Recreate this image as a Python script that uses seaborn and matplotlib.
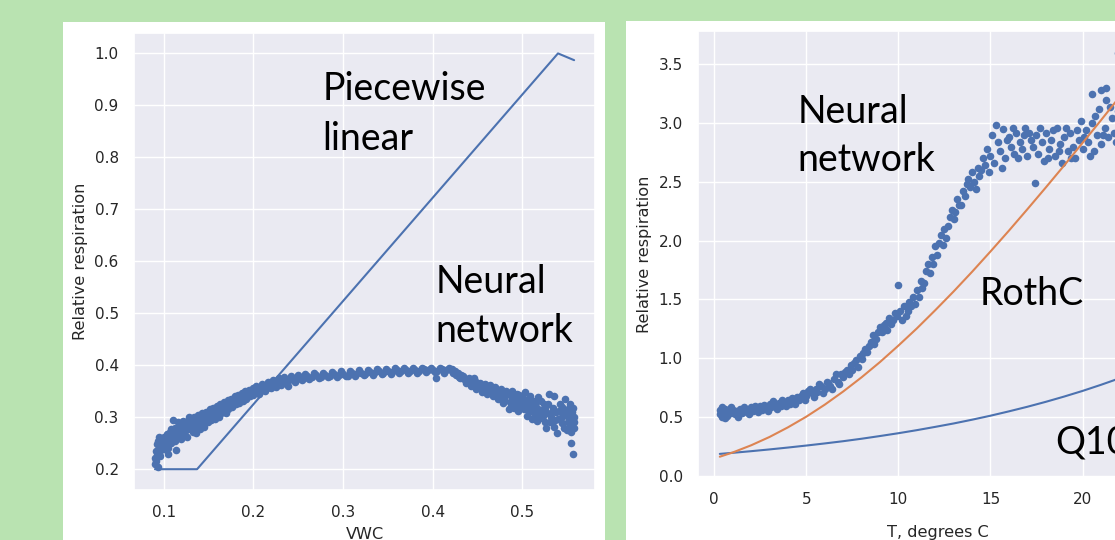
import seaborn as sns
import matplotlib.pyplot as plt
from matplotlib.patches import Rectangle

## Data

# left panel: moisture response
vwc_piecewise = [0.090, 0.137, 0.540, 0.558]
resp_piecewise = [0.200, 0.200, 1.000, 0.987]

vwc_nn = [0.090, 0.090, 0.091, 0.091, 0.092, 0.092, 0.093, 0.094, 0.095, 0.095,
          0.096, 0.097, 0.098, 0.099, 0.100, 0.101, 0.102, 0.103, 0.104, 0.105,
          0.106, 0.107, 0.108, 0.109, 0.110, 0.111, 0.112, 0.113, 0.114, 0.115,
          0.117, 0.118, 0.120, 0.122, 0.123, 0.125, 0.127, 0.128, 0.130, 0.132,
          0.133, 0.135, 0.137, 0.139, 0.140, 0.142, 0.144, 0.146, 0.148, 0.150,
          0.152, 0.154, 0.156, 0.158, 0.160, 0.162, 0.164, 0.166, 0.168, 0.170,
          0.172, 0.174, 0.176, 0.178, 0.180, 0.182, 0.184, 0.186, 0.188, 0.190,
          0.192, 0.194, 0.196, 0.198, 0.200, 0.202, 0.205, 0.207, 0.210, 0.212,
          0.215, 0.218, 0.220, 0.223, 0.226, 0.229, 0.232, 0.235, 0.238, 0.240,
          0.244, 0.248, 0.252, 0.256, 0.260, 0.265, 0.270, 0.275, 0.280, 0.285,
          0.290, 0.295, 0.300, 0.305, 0.310, 0.315, 0.320, 0.325, 0.330, 0.335,
          0.340, 0.345, 0.350, 0.355, 0.360, 0.365, 0.370, 0.375, 0.380, 0.385,
          0.390, 0.395, 0.400, 0.404, 0.405, 0.410, 0.415, 0.420, 0.423, 0.426,
          0.429, 0.432, 0.435, 0.438, 0.441, 0.444, 0.447, 0.450, 0.453, 0.456,
          0.459, 0.462, 0.465, 0.468, 0.471, 0.474, 0.477, 0.480, 0.483, 0.486,
          0.488, 0.490, 0.492, 0.494, 0.496, 0.498, 0.500, 0.502, 0.504, 0.506,
          0.508, 0.510, 0.512, 0.514, 0.516, 0.518, 0.520, 0.522, 0.524, 0.526,
          0.528, 0.530, 0.532, 0.534, 0.536, 0.538, 0.540, 0.542, 0.544, 0.546,
          0.548, 0.550, 0.551, 0.552, 0.553, 0.554, 0.555, 0.556, 0.557, 0.558,
          0.558,
          0.093, 0.096, 0.100, 0.104, 0.108, 0.112, 0.116, 0.119, 0.121, 0.124,
          0.126, 0.129, 0.131, 0.134, 0.136, 0.138, 0.141, 0.143, 0.145, 0.147,
          0.149, 0.151, 0.153, 0.155, 0.157, 0.159, 0.161, 0.163, 0.165, 0.167,
          0.169, 0.171, 0.173, 0.175, 0.177, 0.179, 0.181, 0.183, 0.185, 0.187,
          0.189, 0.191, 0.193, 0.195, 0.197, 0.199, 0.203, 0.206, 0.209, 0.213,
          0.216, 0.219, 0.222, 0.225, 0.228, 0.231, 0.234, 0.237, 0.242, 0.246,
          0.250, 0.254, 0.258, 0.262, 0.268, 0.273, 0.278, 0.283, 0.288, 0.293,
          0.298, 0.303, 0.308, 0.313, 0.318, 0.323, 0.328, 0.333, 0.338, 0.343,
          0.348, 0.353, 0.358, 0.363, 0.368, 0.373, 0.378, 0.383, 0.388, 0.393,
          0.398, 0.403, 0.408, 0.413, 0.418, 0.422, 0.425, 0.428, 0.431, 0.434,
          0.437, 0.440, 0.443, 0.446, 0.449, 0.452, 0.455, 0.458, 0.461, 0.464,
          0.467, 0.470, 0.473, 0.476, 0.479, 0.482, 0.485, 0.487, 0.489, 0.491,
          0.493, 0.495, 0.497, 0.499, 0.501, 0.503, 0.505, 0.507, 0.509, 0.511,
          0.513, 0.515, 0.517, 0.519, 0.521, 0.523, 0.525, 0.527, 0.529, 0.531,
          0.533, 0.535, 0.537, 0.539, 0.541, 0.543, 0.545, 0.547, 0.549, 0.551,
          0.553, 0.555, 0.556, 0.557, 0.558]
resp_nn = [0.210, 0.222, 0.235, 0.215, 0.248, 0.228, 0.255, 0.240, 0.262, 0.232,
           0.250, 0.245, 0.258, 0.238, 0.262, 0.250, 0.245, 0.268, 0.255, 0.240,
           0.262, 0.272, 0.250, 0.265, 0.295, 0.258, 0.280, 0.268, 0.236, 0.275,
           0.262, 0.285, 0.272, 0.280, 0.265, 0.290, 0.278, 0.300, 0.285, 0.272,
           0.292, 0.282, 0.298, 0.288, 0.278, 0.295, 0.302, 0.290, 0.298, 0.306,
           0.295, 0.310, 0.302, 0.312, 0.305, 0.316, 0.308, 0.320, 0.312, 0.322,
           0.316, 0.328, 0.320, 0.330, 0.325, 0.334, 0.328, 0.338, 0.332, 0.340,
           0.336, 0.345, 0.340, 0.348, 0.342, 0.352, 0.348, 0.356, 0.352, 0.360,
           0.356, 0.364, 0.358, 0.368, 0.362, 0.370, 0.366, 0.373, 0.360, 0.372,
           0.376, 0.372, 0.378, 0.375, 0.380, 0.377, 0.381, 0.378, 0.382, 0.380,
           0.383, 0.381, 0.384, 0.380, 0.385, 0.383, 0.386, 0.384, 0.387, 0.385,
           0.388, 0.386, 0.389, 0.387, 0.390, 0.388, 0.391, 0.389, 0.391, 0.389,
           0.392, 0.390, 0.391, 0.376, 0.389, 0.392, 0.390, 0.391, 0.386, 0.382,
           0.378, 0.382, 0.374, 0.370, 0.375, 0.366, 0.370, 0.362, 0.366, 0.356,
           0.360, 0.352, 0.357, 0.346, 0.352, 0.342, 0.348, 0.336, 0.344, 0.330,
           0.322, 0.338, 0.326, 0.345, 0.320, 0.332, 0.340, 0.315, 0.328, 0.336,
           0.310, 0.324, 0.332, 0.305, 0.318, 0.338, 0.298, 0.314, 0.326, 0.290,
           0.308, 0.345, 0.300, 0.318, 0.282, 0.310, 0.296, 0.325, 0.288, 0.305,
           0.335, 0.275, 0.300, 0.318, 0.285, 0.250, 0.295, 0.310, 0.230, 0.280,
           0.300,
           0.205, 0.225, 0.238, 0.230, 0.278, 0.255, 0.290, 0.258, 0.292, 0.276,
           0.262, 0.294, 0.280, 0.300, 0.270, 0.305, 0.285, 0.308, 0.282, 0.310,
           0.290, 0.315, 0.300, 0.318, 0.296, 0.322, 0.300, 0.326, 0.314, 0.330,
           0.308, 0.333, 0.322, 0.336, 0.324, 0.340, 0.328, 0.342, 0.334, 0.346,
           0.336, 0.350, 0.340, 0.352, 0.344, 0.356, 0.360, 0.344, 0.364, 0.350,
           0.368, 0.356, 0.372, 0.358, 0.376, 0.362, 0.378, 0.368, 0.380, 0.368,
           0.382, 0.372, 0.384, 0.374, 0.385, 0.375, 0.386, 0.377, 0.387, 0.378,
           0.388, 0.379, 0.389, 0.380, 0.390, 0.381, 0.391, 0.382, 0.392, 0.383,
           0.393, 0.384, 0.394, 0.385, 0.394, 0.386, 0.395, 0.386, 0.395, 0.387,
           0.395, 0.387, 0.395, 0.386, 0.395, 0.393, 0.388, 0.385, 0.376, 0.380,
           0.365, 0.368, 0.360, 0.375, 0.355, 0.360, 0.348, 0.364, 0.345, 0.362,
           0.340, 0.358, 0.335, 0.354, 0.328, 0.350, 0.315, 0.340, 0.350, 0.318,
           0.334, 0.312, 0.342, 0.320, 0.330, 0.348, 0.302, 0.322, 0.340, 0.296,
           0.315, 0.330, 0.292, 0.310, 0.332, 0.302, 0.318, 0.280, 0.325, 0.290,
           0.310, 0.340, 0.295, 0.270, 0.312, 0.298, 0.320, 0.280, 0.310, 0.290,
           0.325, 0.272, 0.296, 0.318, 0.290]

# right panel: temperature response
temp_curve = [0.3, 1, 2, 3, 4, 5, 6, 7, 8, 9, 10, 11, 12,
              13, 14, 15, 16, 17, 18, 19, 20, 21, 22, 23, 24]
rothc = [0.160, 0.196, 0.257, 0.328, 0.410, 0.501, 0.603, 0.715, 0.836, 0.966,
         1.106, 1.252, 1.407, 1.567, 1.734, 1.907, 2.084, 2.266, 2.451, 2.639,
         2.831, 3.024, 3.221, 3.417, 3.612]
q10 = [0.184, 0.193, 0.207, 0.222, 0.238, 0.255, 0.273, 0.292, 0.313, 0.336,
       0.360, 0.386, 0.414, 0.443, 0.475, 0.509, 0.546, 0.585, 0.627, 0.672,
       0.720, 0.772, 0.827, 0.887, 0.950]

temp_nn = [0.3, 0.3, 0.4, 0.5, 0.6, 0.7, 0.8, 0.9, 1.0, 1.1, 1.2, 1.4, 1.5, 1.7,
           1.8, 2.0, 2.1, 2.3, 2.5, 2.6, 2.8, 3.0, 3.1, 3.3, 3.5, 3.6, 3.8, 4.0,
           4.1, 4.3, 4.5, 4.6, 4.8, 5.0, 5.1, 5.3, 5.5, 5.6, 5.8, 6.0, 6.2, 6.3,
           6.5, 6.7, 6.9, 7.0, 7.2, 7.4, 7.5, 7.7, 7.9, 8.0, 8.2, 8.3, 8.5, 8.6,
           8.8, 9.0, 9.1, 9.3, 9.5, 9.6, 9.8, 9.9, 10.0, 10.1, 10.2, 10.3, 10.5,
           10.6, 10.8, 10.9, 11.0, 11.2, 11.3, 11.5, 11.6, 11.8, 11.9, 12.0, 12.2,
           12.3, 12.5, 12.6, 12.8, 12.9, 13.0, 13.2, 13.3, 13.5, 13.6, 13.8, 13.9,
           14.0, 14.1, 14.3, 14.4, 14.6, 14.7, 14.8, 15.0, 15.1, 15.2, 15.4, 15.5,
           15.7, 15.8, 16.0, 16.1, 16.3, 16.4, 16.6, 16.7, 16.9, 17.0, 17.2, 17.3,
           17.4, 17.5, 17.6, 17.8, 17.9, 18.0, 18.2, 18.3, 18.5, 18.6, 18.8, 18.9,
           19.0, 19.2, 19.3, 19.5, 19.6, 19.8, 19.9, 20.0, 20.2, 20.3, 20.5, 20.5,
           20.6, 20.8, 20.9, 21.0, 21.0, 21.2, 21.3, 21.3, 21.4, 21.6, 21.7, 21.9,
           21.9, 22.0, 22.2, 22.3, 22.5, 22.6, 22.8, 23.0, 23.2, 23.4, 23.6, 23.8,
           24.0,
           0.4, 0.6, 0.9, 1.3, 1.6, 1.9, 2.2, 2.4, 2.7, 2.9, 3.2, 3.4, 3.7, 3.9,
           4.2, 4.4, 4.7, 4.9, 5.2, 5.4, 5.7, 5.9, 6.1, 6.4, 6.6, 6.8, 7.1, 7.3,
           7.6, 7.8, 8.1, 8.4, 8.7, 8.9, 9.2, 9.4, 9.7, 10.4, 10.7, 11.1, 11.4,
           11.7, 12.1, 12.4, 12.7, 13.1, 13.4, 13.7, 14.2, 14.5, 14.9, 15.3, 15.6,
           15.9, 16.2, 16.5, 16.8, 17.1, 17.7, 18.1, 18.4, 18.7, 19.1, 19.4, 19.7,
           20.1, 20.4, 20.7, 21.1, 21.5, 21.8, 22.1, 22.4, 22.7, 22.9, 23.1, 23.3,
           23.5, 23.7, 23.9]
resp_temp_nn = [0.52, 0.56, 0.50, 0.54, 0.57, 0.51, 0.55, 0.53, 0.56, 0.52, 0.55,
                0.57, 0.53, 0.56, 0.54, 0.58, 0.55, 0.57, 0.59, 0.56, 0.58, 0.61,
                0.58, 0.60, 0.62, 0.59, 0.61, 0.64, 0.61, 0.63, 0.67, 0.64, 0.70,
                0.68, 0.72, 0.70, 0.74, 0.71, 0.76, 0.74, 0.79, 0.76, 0.82, 0.80,
                0.86, 0.84, 0.90, 0.94, 0.90, 0.98, 1.02, 0.99, 1.08, 1.05, 1.14,
                1.20, 1.16, 1.26, 1.22, 1.30, 1.34, 1.29, 1.38, 1.36, 1.62, 1.40,
                1.32, 1.44, 1.40, 1.48, 1.52, 1.46, 1.58, 1.66, 1.60, 1.74, 1.80,
                1.86, 1.80, 1.95, 1.98, 2.05, 2.10, 2.02, 2.20, 2.26, 2.18, 2.35,
                2.30, 2.42, 2.38, 2.52, 2.46, 2.58, 2.50, 2.62, 2.55, 2.70, 2.64,
                2.78, 2.72, 2.90, 2.66, 2.84, 2.76, 2.95, 2.70, 2.88, 2.80, 2.74,
                2.92, 2.84, 2.78, 2.96, 2.72, 2.86, 2.80, 2.49, 2.90, 2.74, 2.84,
                2.68, 2.92, 2.78, 2.86, 2.72, 2.96, 2.82, 2.66, 2.88, 2.76, 2.92,
                2.80, 2.70, 2.86, 3.02, 2.78, 2.94, 2.84, 3.00, 3.25, 2.76, 2.90,
                3.12, 2.82, 3.28, 2.96, 3.20, 3.30, 2.88, 3.04, 2.92, 3.60, 3.10,
                2.86, 3.00, 3.22, 2.94, 3.08, 2.90, 3.04, 3.14, 2.96, 3.06, 3.18,
                3.00,
                0.58, 0.49, 0.58, 0.50, 0.58, 0.52, 0.59, 0.54, 0.60, 0.55, 0.63,
                0.57, 0.64, 0.59, 0.66, 0.61, 0.68, 0.64, 0.74, 0.67, 0.78, 0.70,
                0.80, 0.74, 0.86, 0.78, 0.88, 0.86, 0.96, 0.92, 1.04, 1.10, 1.12,
                1.22, 1.28, 1.24, 1.32, 1.36, 1.44, 1.52, 1.64, 1.72, 1.88, 1.96,
                2.12, 2.24, 2.30, 2.48, 2.44, 2.60, 2.58, 2.98, 2.62, 2.86, 2.96,
                2.70, 2.90, 2.92, 2.96, 2.70, 2.94, 2.76, 2.96, 2.70, 2.94, 2.88,
                2.72, 3.06, 2.90, 3.14, 2.84, 3.16, 3.06, 3.24, 2.98, 2.90, 3.20,
                3.04, 2.92, 3.10]

## Figure

sns.set_theme(style="darkgrid", rc={"xtick.labelsize": 11, "ytick.labelsize": 11,
                                    "axes.labelsize": 11.6,
                                    "xtick.major.pad": 5, "ytick.major.pad": 5,
                                    "axes.labelpad": 5})

blue = sns.color_palette("deep")[0]
orange = sns.color_palette("deep")[1]

fig = plt.figure(figsize=(11.15, 5.4), dpi=100, facecolor="#b9e3b1")

# white slide panels behind each plot
fig.patches.append(Rectangle((0.0565, 0), 0.486, 0.959, transform=fig.transFigure,
                             facecolor="white", edgecolor="none", zorder=-10))
fig.patches.append(Rectangle((0.5614, 0), 0.5, 0.961, transform=fig.transFigure,
                             facecolor="white", edgecolor="none", zorder=-10))

ax1 = fig.add_axes([0.1202, 0.0926, 0.4135, 0.847])
ax2 = fig.add_axes([0.626, 0.1167, 0.4305, 0.826])

## Left: VWC
sns.lineplot(x=vwc_piecewise, y=resp_piecewise, color=blue, linewidth=1.5,
             estimator=None, ax=ax1)
sns.scatterplot(x=vwc_nn, y=resp_nn, color=blue, s=30, linewidth=0, ax=ax1, zorder=3)
ax1.set_xlabel("VWC")
ax1.set_ylabel("Relative respiration")

## Right: temperature
sns.scatterplot(x=temp_nn, y=resp_temp_nn, color=blue, s=30, linewidth=0, ax=ax2)
sns.lineplot(x=temp_curve, y=q10, color=blue, linewidth=1.5, estimator=None, ax=ax2)
sns.lineplot(x=temp_curve, y=rothc, color=orange, linewidth=1.5, estimator=None, ax=ax2)
ax2.set_xlabel("T, degrees C", labelpad=13)
ax2.set_ylabel("Relative respiration")
ax2.set_xticks([0, 5, 10, 15, 20])

## Slide annotations
note = dict(fontsize=27, family="Lato", color="black", va="baseline", ha="left")
for i, line in enumerate(["Piecewise", "linear"]):
    ax1.text(0.277, 0.910 - i * 0.096, line, **note)
for i, line in enumerate(["Neural", "network"]):
    ax1.text(0.403, 0.539 - i * 0.094, line, **note)
for i, line in enumerate(["Neural", "network"]):
    ax2.text(4.5, 3.00 - i * 0.41, line, **note)
ax2.text(14.4, 1.45, "RothC", **note)
ax2.text(18.5, 0.19, "Q10", **note)

plt.savefig("out.png", dpi=100, facecolor=fig.get_facecolor())
